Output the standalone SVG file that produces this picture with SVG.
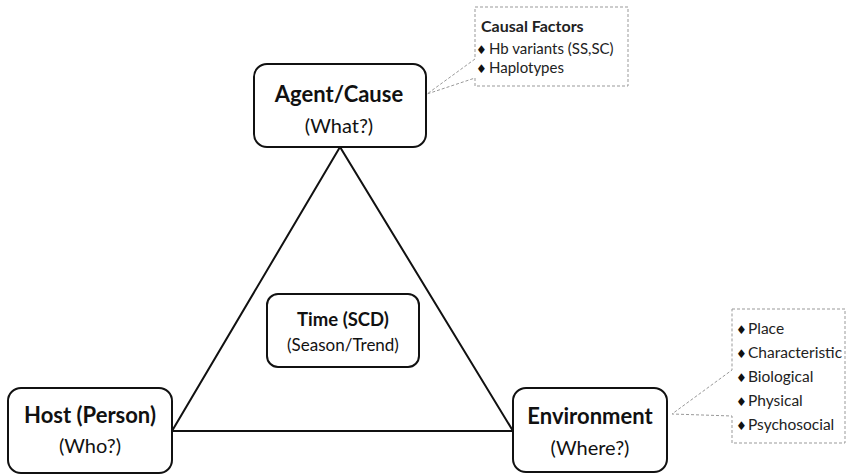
<svg xmlns="http://www.w3.org/2000/svg" width="846" height="474" viewBox="0 0 846 474">
<style>
.node{fill:#fff;stroke:#111;stroke-width:2}
.t{font-family:Lato,"Liberation Sans",sans-serif;fill:#111;text-anchor:middle}
.b{font-weight:bold}
.call{fill:#fff;stroke:#999;stroke-width:1;stroke-dasharray:3 2}
.ct{font-family:Lato,"Liberation Sans",sans-serif;fill:#222}
.bul{font-family:"DejaVu Sans",sans-serif;font-size:12px;fill:#111}
.edge{fill:none;stroke:#111;stroke-width:2}
</style>
<rect width="846" height="474" fill="#fff"/>
<g id="connectors">
<path class="edge" d="M340,147 L172,431 L513,431 Z"/>
</g>
<g id="agent">
<rect class="node" x="254" y="64" width="172" height="83" rx="13"/>
<text class="t b" x="339" y="102" font-size="22">Agent/Cause</text>
<text class="t" x="339" y="133" font-size="20">(What?)</text>
</g>
<g id="host">
<rect class="node" x="8" y="388" width="164" height="85" rx="13"/>
<text class="t b" x="90" y="423" font-size="22">Host (Person)</text>
<text class="t" x="90" y="453" font-size="20">(Who?)</text>
</g>
<g id="environment">
<rect class="node" x="513" y="388" width="154" height="84" rx="13"/>
<text class="t b" x="590" y="424" font-size="22">Environment</text>
<text class="t" x="590" y="455" font-size="20">(Where?)</text>
</g>
<g id="time">
<rect class="node" x="267" y="294" width="152" height="73" rx="11"/>
<text class="t b" x="343" y="326" font-size="18.5">Time (SCD)</text>
<text class="t" x="343" y="351" font-size="17">(Season/Trend)</text>
</g>
<g id="causal-factors">
<path class="call" d="M475,7 H628 V86 H475 V78 L427,94 L475,59 Z"/>
<text class="ct b" x="481" y="32" font-size="16">Causal Factors</text>
<text class="ct" y="54" font-size="15"><tspan class="bul" x="476">♦</tspan><tspan x="489">Hb variants (SS,SC)</tspan></text>
<text class="ct" y="73" font-size="15"><tspan class="bul" x="476">♦</tspan><tspan x="489">Haplotypes</tspan></text>
</g>
<g id="environment-factors">
<path class="call" d="M732,309 H845 V443 H732 V416 L672,414 L732,370 Z"/>
<text class="ct" y="334" font-size="15.5"><tspan class="bul" x="736">♦</tspan><tspan x="748">Place</tspan></text>
<text class="ct" y="358" font-size="15.5"><tspan class="bul" x="736">♦</tspan><tspan x="748">Characteristic</tspan></text>
<text class="ct" y="382" font-size="15.5"><tspan class="bul" x="736">♦</tspan><tspan x="748">Biological</tspan></text>
<text class="ct" y="406" font-size="15.5"><tspan class="bul" x="736">♦</tspan><tspan x="748">Physical</tspan></text>
<text class="ct" y="430" font-size="15.5"><tspan class="bul" x="736">♦</tspan><tspan x="748">Psychosocial</tspan></text>
</g>
</svg>
